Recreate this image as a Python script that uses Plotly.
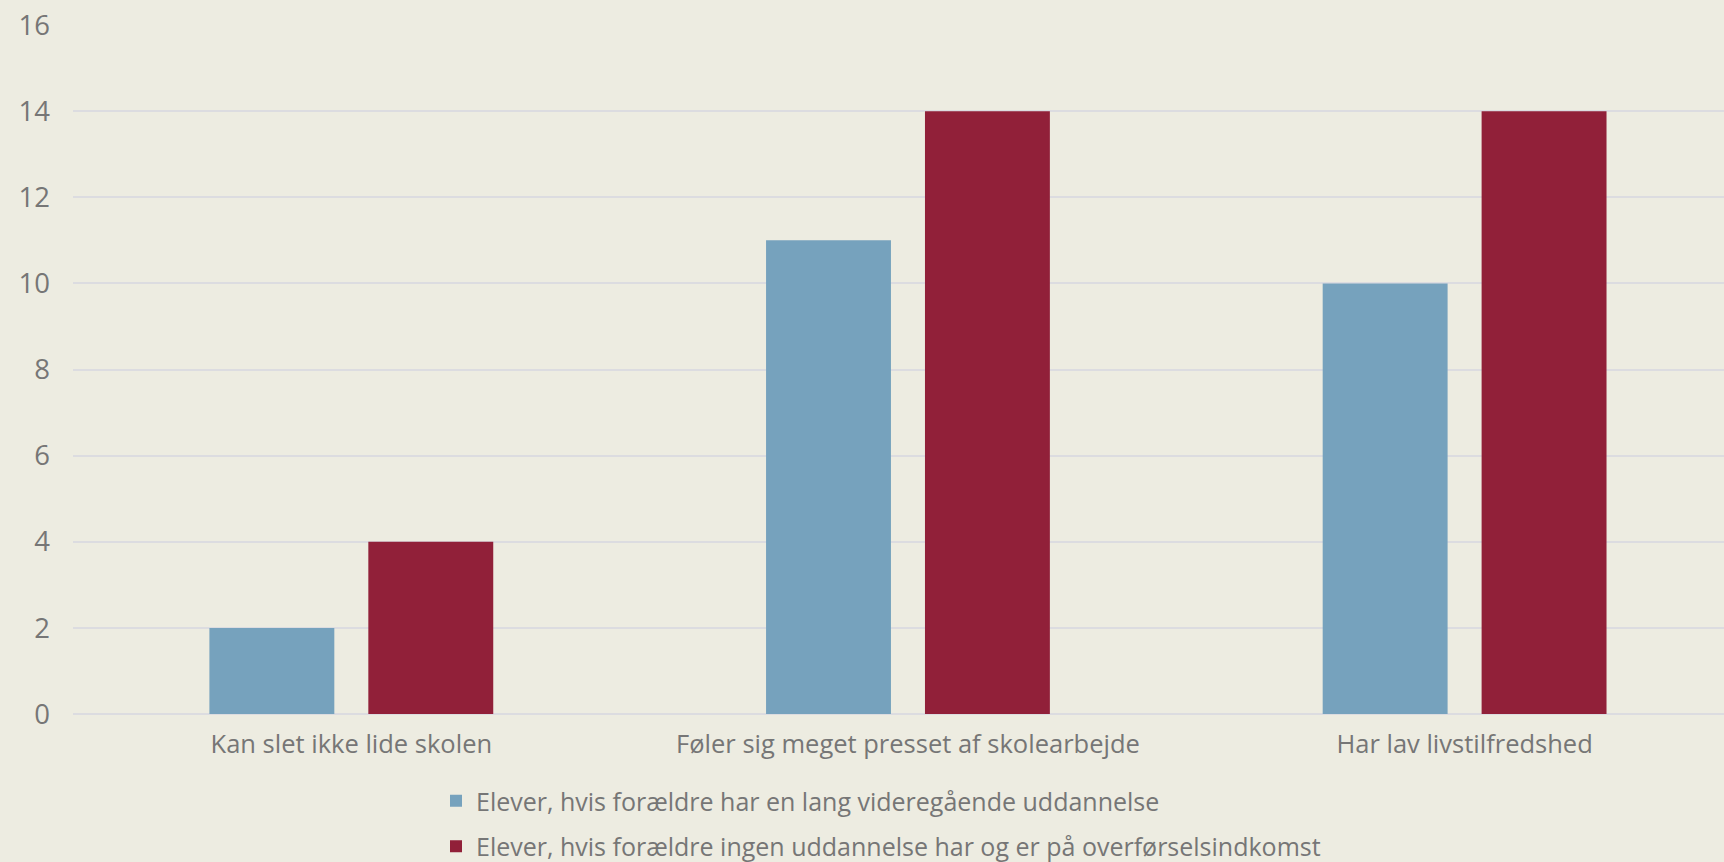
import plotly.graph_objects as go

categories = ["Kan slet ikke lide skolen", "Føler sig meget presset af skolearbejde", "Har lav livstilfredshed"]
series_names = [
    "Elever, hvis forældre har en lang videregående uddannelse",
    "Elever, hvis forældre ingen uddannelse har og er på overførselsindkomst",
]
values_long_edu = [2, 11, 10]
values_no_edu = [4, 14, 14]
y_ticks = [0, 2, 4, 6, 8, 10, 12, 14, 16]

BG = "#EDECE1"
BLUE = "#76A2BD"
RED = "#912039"
TEXT = "#767676"
GRID = "#DCDCE0"
FONT = "Open Sans, Noto Sans, sans-serif"

fig = go.Figure()
fig.add_trace(go.Bar(x=categories, y=values_long_edu, name=series_names[0], showlegend=True,
                     marker=dict(color=BLUE, line=dict(width=0)), legend="legend"))
fig.add_trace(go.Bar(x=categories, y=values_no_edu, name=series_names[1], showlegend=True,
                     marker=dict(color=RED, line=dict(width=0)), legend="legend2"))

fig.update_layout(
    width=1724, height=862,
    paper_bgcolor=BG, plot_bgcolor=BG,
    margin=dict(l=73, r=0, t=25, b=148, pad=0, autoexpand=False),
    barmode="group", bargap=0.429, bargroupgap=0.214,
    showlegend=True,
    font=dict(family=FONT, color=TEXT, size=25),
    legend=dict(xref="paper", yref="paper", x=(436-73)/1651, y=-(801-714)/689,
                xanchor="left", yanchor="middle", bgcolor="rgba(0,0,0,0)", visible=True,
                font=dict(size=25, color=TEXT, family=FONT)),
    legend2=dict(xref="paper", yref="paper", x=(436-73)/1651, y=-(846.5-714)/689,
                 xanchor="left", yanchor="middle", bgcolor="rgba(0,0,0,0)", visible=True,
                 font=dict(size=25, color=TEXT, family=FONT)),
    xaxis=dict(range=[-0.5, 2.466], showgrid=False, zeroline=False, showline=False,
               ticks="", tickfont=dict(size=25.5, color=TEXT, family=FONT), tickangle=0,
               automargin=False, ticklabelstandoff=12, fixedrange=True),
    yaxis=dict(range=[0, 16], tickvals=y_ticks, ticktext=[str(v) for v in y_ticks],
               showgrid=True, gridcolor=GRID, gridwidth=2, automargin=False,
               zeroline=True, zerolinecolor=GRID, zerolinewidth=2, showline=False,
               ticks="", tickfont=dict(size=27.5, color=TEXT, family=FONT),
               ticklabelstandoff=22, fixedrange=True),
)

fig.write_html("out.html", config={"displayModeBar": False},
               post_script="document.body.style.margin='0';document.body.style.overflow='hidden';")
